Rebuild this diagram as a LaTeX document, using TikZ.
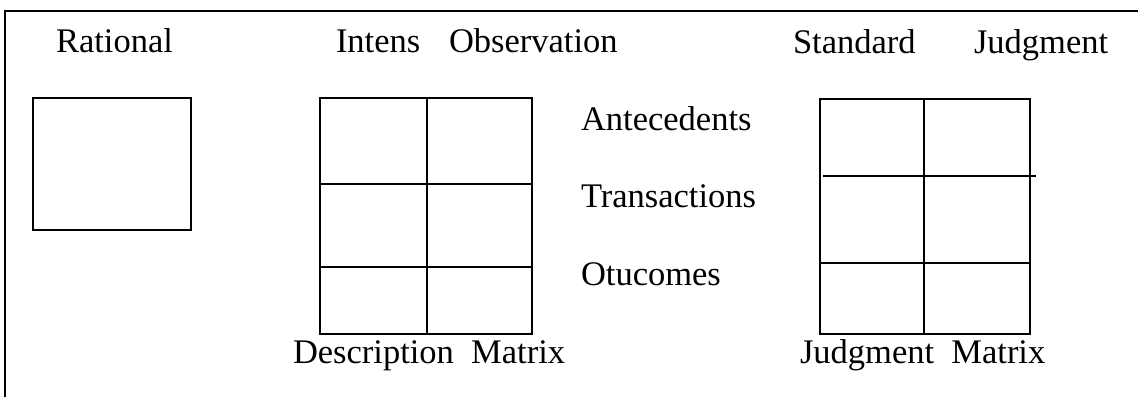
\documentclass[tikz,border=0pt]{standalone}
\usepackage{fontspec}
\setmainfont{Liberation Serif}
\usetikzlibrary{calc}

\begin{document}
\begin{tikzpicture}[x=1pt,y=-1pt,line width=2pt,
  grid box/.style={draw,inner sep=0pt,anchor=north west},
  head text/.style={anchor=base west,inner sep=0pt,font=\fontsize{34.5}{40}\selectfont}]
\useasboundingbox (0,0) rectangle (1138,397);
% frame
\draw (5,397) -- (5,11) -- (1138,11);

% boxes
\node[grid box,minimum width=158pt,minimum height=132pt] (rat) at (32,97) {};
\node[grid box,minimum width=212pt,minimum height=236pt] (desc) at (319,97) {};
\node[grid box,minimum width=210pt,minimum height=235pt] (judg) at (819,98) {};

% cells of the description matrix
\draw ($(desc.north west)!0.505!(desc.north east)$) -- ($(desc.south west)!0.505!(desc.south east)$);
\draw ($(desc.north west)!0.364!(desc.south west)$) -- ($(desc.north east)!0.364!(desc.south east)$);
\draw ($(desc.north west)!0.716!(desc.south west)$) -- ($(desc.north east)!0.716!(desc.south east)$);

% cells of the judgment matrix
\draw ($(judg.north west)!0.495!(judg.north east)$) -- ($(judg.south west)!0.495!(judg.south east)$);
\draw ($(judg.north west)!0.328!(judg.south west)+(4,0)$) -- ($(judg.north east)!0.328!(judg.south east)+(5,0)$);
\draw ($(judg.north west)!0.698!(judg.south west)$) -- ($(judg.north east)!0.698!(judg.south east)$);

% texts
\node[head text] (trat) at (55,52) {Rational};
\node[head text] (tint) at (335,52) {Intens};
\node[head text] (tobs) at (448,52) {Observation};
\node[head text] (tstd) at (792,53) {Standard};
\node[head text] (tjud) at (973,53) {Judgment};
\node[head text] (tant) at (580,130) {Antecedents};
\node[head text] (ttra) at (580,207) {Transactions};
\node[head text] (tout) at (580,285) {Otucomes};
\node[head text] (tdm) at (292,363) {Description\ \ Matrix};
\node[head text] (tjm) at (799,363) {Judgment\ \ Matrix};
\end{tikzpicture}
\end{document}
